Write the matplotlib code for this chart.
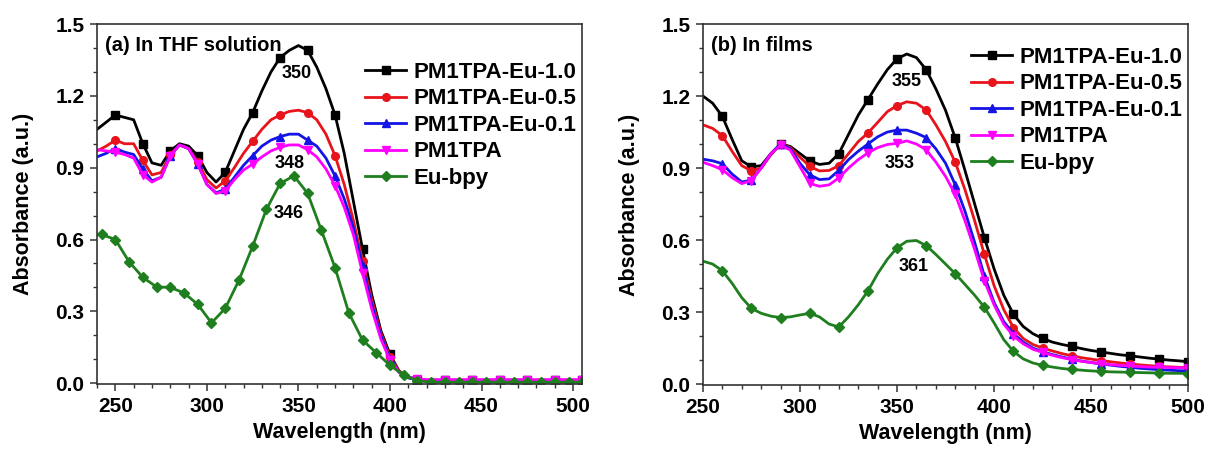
import numpy as np
import matplotlib
matplotlib.use('Agg')
import matplotlib.pyplot as plt
from matplotlib.ticker import MultipleLocator, FormatStrFormatter

plt.rcParams['font.family'] = ['Liberation Sans', 'DejaVu Sans']
plt.rcParams['font.weight'] = 'bold'
plt.rcParams['axes.labelweight'] = 'bold'

names = ['PM1TPA-Eu-1.0', 'PM1TPA-Eu-0.5', 'PM1TPA-Eu-0.1', 'PM1TPA', 'Eu-bpy']
colors = ['#000000', '#e8141c', '#1414e6', '#ff00ff', '#1f7f1f']
markers = ['s', 'o', '^', 'v', 'D']

# ---- (a) THF solution, 240-505 nm every 5 nm ----
wl_a = np.arange(240, 506, 5)
tail_a = [0.012] * 18
sol_10 = [1.06, 1.09, 1.12, 1.11, 1.10, 1.00, 0.92, 0.91, 0.97, 1.00,
          0.99, 0.95, 0.88, 0.84, 0.88, 0.97, 1.06, 1.13, 1.22, 1.30,
          1.36, 1.39, 1.41, 1.39, 1.32, 1.23, 1.12, 0.96, 0.76, 0.56,
          0.37, 0.22, 0.12, 0.05, 0.025, 0.015] + tail_a
sol_05 = [0.97, 0.99, 1.015, 1.00, 1.00, 0.93, 0.87, 0.88, 0.955, 0.995,
          0.98, 0.925, 0.85, 0.815, 0.845, 0.90, 0.96, 1.01, 1.06, 1.10,
          1.12, 1.135, 1.14, 1.13, 1.10, 1.04, 0.95, 0.83, 0.68, 0.51,
          0.35, 0.21, 0.11, 0.05, 0.025, 0.015] + [0.01] * 18
sol_01 = [0.945, 0.96, 0.98, 0.965, 0.955, 0.895, 0.845, 0.86, 0.95, 0.995,
          0.98, 0.915, 0.83, 0.795, 0.81, 0.86, 0.91, 0.95, 0.99, 1.015,
          1.03, 1.04, 1.04, 1.015, 0.99, 0.94, 0.865, 0.77, 0.65, 0.49,
          0.33, 0.20, 0.10, 0.045, 0.022, 0.014] + [0.01] * 18
sol_pm = [0.975, 0.97, 0.965, 0.955, 0.94, 0.87, 0.84, 0.86, 0.95, 0.995,
          0.98, 0.915, 0.83, 0.792, 0.803, 0.85, 0.89, 0.915, 0.945, 0.97,
          0.985, 0.995, 0.995, 0.975, 0.945, 0.895, 0.825, 0.735, 0.62, 0.46,
          0.31, 0.185, 0.095, 0.045, 0.025, 0.018] + [0.015] * 18
# Eu-bpy was sampled every 7.5 nm
wl_a_eu = np.concatenate([[240], np.arange(242.5, 506, 7.5)])
sol_eu = [0.62, 0.621, 0.60, 0.507, 0.442, 0.402, 0.40, 0.377, 0.329, 0.252,
          0.312, 0.43, 0.572, 0.726, 0.834, 0.866, 0.793, 0.639, 0.482, 0.294,
          0.18, 0.127, 0.075, 0.033, 0.01] + [0.004] * 12

# ---- (b) films, 250-500 nm every 5 nm ----
wl_b = np.arange(250, 501, 5)
film_10 = [1.20, 1.17, 1.115, 1.02, 0.93, 0.905, 0.91, 0.96, 1.00, 0.99,
           0.96, 0.93, 0.915, 0.92, 0.96, 1.04, 1.12, 1.185, 1.25, 1.31,
           1.355, 1.375, 1.36, 1.31, 1.23, 1.14, 1.025, 0.89, 0.75, 0.61,
           0.48, 0.37, 0.29, 0.24, 0.21, 0.19, 0.175, 0.165, 0.157, 0.148,
           0.14, 0.134, 0.128, 0.122, 0.118, 0.113, 0.108, 0.104, 0.10, 0.097,
           0.093]
film_05 = [1.08, 1.065, 1.035, 0.97, 0.91, 0.888, 0.90, 0.955, 1.00, 0.985,
           0.945, 0.907, 0.888, 0.89, 0.91, 0.96, 1.01, 1.046, 1.09, 1.135,
           1.16, 1.176, 1.17, 1.142, 1.08, 1.01, 0.924, 0.81, 0.68, 0.54,
           0.41, 0.31, 0.235, 0.19, 0.165, 0.15, 0.138, 0.127, 0.118, 0.11,
           0.104, 0.098, 0.093, 0.088, 0.084, 0.08, 0.077, 0.074, 0.072, 0.07,
           0.068]
film_01 = [0.937, 0.93, 0.918, 0.875, 0.842, 0.85, 0.90, 0.96, 1.00, 0.98,
           0.92, 0.872, 0.852, 0.855, 0.89, 0.935, 0.97, 1.00, 1.03, 1.05,
           1.058, 1.058, 1.045, 1.027, 0.98, 0.92, 0.83, 0.72, 0.59, 0.45,
           0.34, 0.26, 0.21, 0.175, 0.15, 0.135, 0.123, 0.113, 0.104, 0.096,
           0.09, 0.084, 0.079, 0.074, 0.07, 0.066, 0.063, 0.06, 0.058, 0.056,
           0.055]
film_pm = [0.924, 0.91, 0.893, 0.86, 0.835, 0.848, 0.90, 0.96, 0.995, 0.975,
           0.905, 0.836, 0.824, 0.83, 0.859, 0.90, 0.935, 0.963, 0.985, 0.998,
           1.003, 1.013, 1.00, 0.976, 0.925, 0.865, 0.79, 0.68, 0.56, 0.43,
           0.33, 0.25, 0.20, 0.168, 0.145, 0.132, 0.12, 0.11, 0.102, 0.095,
           0.09, 0.085, 0.081, 0.078, 0.075, 0.073, 0.071, 0.07, 0.069, 0.068,
           0.067]
film_eu = [0.512, 0.50, 0.472, 0.42, 0.36, 0.315, 0.295, 0.283, 0.277, 0.28,
           0.288, 0.295, 0.28, 0.25, 0.238, 0.28, 0.33, 0.388, 0.46, 0.52,
           0.568, 0.595, 0.598, 0.577, 0.54, 0.50, 0.46, 0.415, 0.37, 0.32,
           0.255, 0.185, 0.136, 0.105, 0.088, 0.078, 0.071, 0.065, 0.061, 0.058,
           0.055, 0.053, 0.051, 0.05, 0.049, 0.048, 0.047, 0.046, 0.045, 0.045,
           0.044]

peaks_a = [('350', 348.8, 1.295), ('348', 345, 0.919), ('346', 344.7, 0.71)]
peaks_b = [('355', 355, 1.26), ('353', 351.5, 0.921), ('361', 358.4, 0.49)]

fig = plt.figure(figsize=(12.07, 4.53), dpi=100)
ax1 = fig.add_axes([0.0804, 0.152, 0.402, 0.795])
ax2 = fig.add_axes([0.5824, 0.150, 0.402, 0.797])


def style(ax, xlim, title, legend_y):
    ax.set_xlim(*xlim)
    ax.set_ylim(-0.004, 1.5)
    ax.xaxis.set_major_locator(MultipleLocator(50))
    ax.xaxis.set_minor_locator(MultipleLocator(10))
    ax.yaxis.set_major_locator(MultipleLocator(0.3))
    ax.yaxis.set_minor_locator(MultipleLocator(0.1))
    ax.yaxis.set_major_formatter(FormatStrFormatter('%.1f'))
    ax.tick_params(which='major', direction='out', length=5, width=1.1,
                   labelsize=15, pad=4, color='#333333')
    ax.tick_params(which='minor', direction='out', length=3, width=1.0,
                   color='#333333')
    for s in ax.spines.values():
        s.set_linewidth(1.2)
        s.set_color('#333333')
    ax.set_xlabel('Wavelength (nm)', fontsize=15.5)
    ax.set_ylabel('Absorbance (a.u.)', fontsize=15.5)
    ax.xaxis.set_label_coords(0.5, -0.105)
    ax.yaxis.set_label_coords(-0.13, 0.5)
    ax.text(0.016, 0.94, title, transform=ax.transAxes, fontsize=14.5,
            fontweight='bold', ha='left', va='center')
    ax.legend(loc='upper left', bbox_to_anchor=(0.553, legend_y), frameon=False,
              prop={'weight': 'bold', 'size': 16}, handlelength=1.85,
              handletextpad=0.32, labelspacing=0.25, borderpad=0,
              borderaxespad=0)


series_a = [(wl_a, sol_10), (wl_a, sol_05), (wl_a, sol_01), (wl_a, sol_pm),
            (wl_a_eu, sol_eu)]
for i, (x, y) in enumerate(series_a):
    every = (1, 1) if i == 4 else (2, 3)
    ax1.plot(x, y, color=colors[i], marker=markers[i], markersize=5.5,
             markevery=every, linewidth=2.0, label=names[i])
for t, x, y in peaks_a:
    ax1.text(x, y, t, fontsize=13, ha='center', va='center')
style(ax1, (240, 505), '(a) In THF solution', 0.895)

series_b = [film_10, film_05, film_01, film_pm, film_eu]
for i, y in enumerate(series_b):
    ax2.plot(wl_b, y, color=colors[i], marker=markers[i], markersize=5.5,
             markevery=(2, 3), linewidth=2.0, label=names[i])
for t, x, y in peaks_b:
    ax2.text(x, y, t, fontsize=13, ha='center', va='center')
style(ax2, (250, 500), '(b) In films', 0.937)

fig.savefig('out.png', dpi=100)
